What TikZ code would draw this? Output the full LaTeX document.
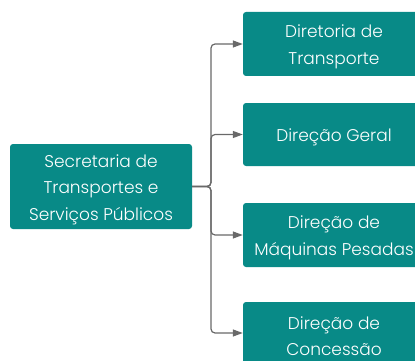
\documentclass[tikz,border=0pt]{standalone}
\usepackage{fontspec}
\setmainfont{Poppins Light}
\usetikzlibrary{arrows.meta}
\definecolor{teal1}{RGB}{8,138,135}
\definecolor{conncol}{RGB}{105,105,105}
\tikzset{
  box/.style={fill=teal1, rounded corners=3pt, minimum width=182pt, inner sep=0pt},
  btext/.style={text=white, align=center, inner sep=0pt, yshift=-3pt,
    font=\fontsize{17}{26.5}\selectfont},
  conn/.style={draw=conncol, line width=1.2pt, rounded corners=4pt,
    -{Triangle[length=10pt,width=7pt]}}
}
\begin{document}
\begin{tikzpicture}[x=1pt,y=-1pt]
\useasboundingbox (0,0) rectangle (415,361);
\clip (0,0) rectangle (415,361);
\node[box, minimum height=85pt, label={[btext]center:{Secretaria de\\Transportes e\\Serviços Públicos}}] (L) at (101,186.5) {};
\node[box, minimum height=64pt, label={[btext]center:{Diretoria de\\Transporte}}] (R1) at (334,44) {};
\node[box, minimum height=63pt, label={[btext]center:{Direção Geral}}] (R2) at (334,134.5) {};
\node[box, minimum height=64pt, label={[btext]center:{Direção de\\Máquinas Pesadas}}] (R3) at (334,235) {};
\node[box, minimum height=62pt, label={[btext]center:{Direção de\\Concessão}}] (R4) at (334,333) {};
\coordinate (j) at (211,186.5);
\draw[conn] (L.east) -- (j) |- (R1.west);
\draw[conn] (L.east) -- (j) |- (R2.west);
\draw[conn] (L.east) -- (j) |- (R3.west);
\draw[conn] (L.east) -- (j) |- (R4.west);
\end{tikzpicture}
\end{document}
